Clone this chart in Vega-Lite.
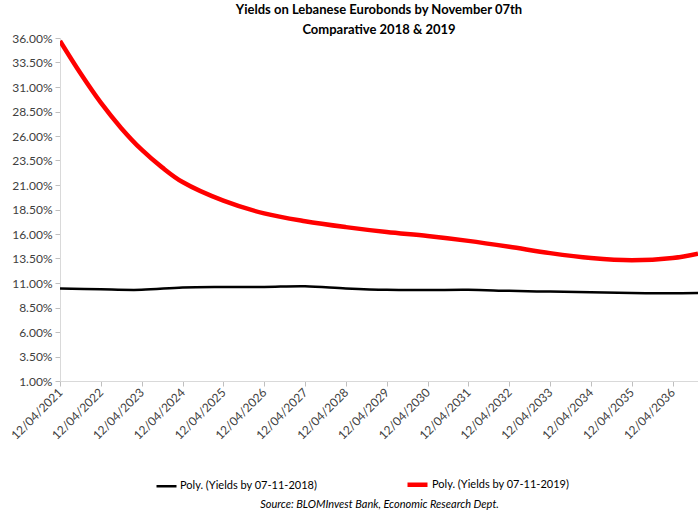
{
  "$schema": "https://vega.github.io/schema/vega-lite/v6.json",
  "autosize": "none",
  "padding": {"left": 60, "top": 38, "right": 0, "bottom": 136},
  "width": 638,
  "height": 343,
  "background": "white",
  "title": {
    "text": ["Yields on Lebanese Eurobonds by  November 07th", "Comparative 2018 & 2019"],
    "anchor": "middle",
    "font": "Lato",
    "fontSize": 13,
    "fontWeight": "bold",
    "color": "#000000",
    "lineHeight": 20,
    "offset": -5
  },
  "data": {
    "values": [
      {"date": "2021-04-12", "series": "Poly. (Yields by 07-11-2018)", "yield": 10.45},
      {"date": "2022-04-12", "series": "Poly. (Yields by 07-11-2018)", "yield": 10.35},
      {"date": "2023-04-12", "series": "Poly. (Yields by 07-11-2018)", "yield": 10.3},
      {"date": "2024-04-12", "series": "Poly. (Yields by 07-11-2018)", "yield": 10.55},
      {"date": "2025-04-12", "series": "Poly. (Yields by 07-11-2018)", "yield": 10.6},
      {"date": "2026-04-12", "series": "Poly. (Yields by 07-11-2018)", "yield": 10.6},
      {"date": "2027-04-12", "series": "Poly. (Yields by 07-11-2018)", "yield": 10.67},
      {"date": "2028-04-12", "series": "Poly. (Yields by 07-11-2018)", "yield": 10.45},
      {"date": "2029-04-12", "series": "Poly. (Yields by 07-11-2018)", "yield": 10.3},
      {"date": "2030-04-12", "series": "Poly. (Yields by 07-11-2018)", "yield": 10.28},
      {"date": "2031-04-12", "series": "Poly. (Yields by 07-11-2018)", "yield": 10.3},
      {"date": "2032-04-12", "series": "Poly. (Yields by 07-11-2018)", "yield": 10.2},
      {"date": "2033-04-12", "series": "Poly. (Yields by 07-11-2018)", "yield": 10.12},
      {"date": "2034-04-12", "series": "Poly. (Yields by 07-11-2018)", "yield": 10.05},
      {"date": "2035-04-12", "series": "Poly. (Yields by 07-11-2018)", "yield": 9.97},
      {"date": "2036-04-12", "series": "Poly. (Yields by 07-11-2018)", "yield": 9.95},
      {"date": "2036-11-25", "series": "Poly. (Yields by 07-11-2018)", "yield": 9.98},
      {"date": "2021-04-12", "series": "Poly. (Yields by 07-11-2019)", "yield": 35.7},
      {"date": "2021-10-12", "series": "Poly. (Yields by 07-11-2019)", "yield": 32.4},
      {"date": "2022-04-12", "series": "Poly. (Yields by 07-11-2019)", "yield": 29.4},
      {"date": "2022-10-12", "series": "Poly. (Yields by 07-11-2019)", "yield": 26.8},
      {"date": "2023-04-12", "series": "Poly. (Yields by 07-11-2019)", "yield": 24.6},
      {"date": "2023-10-12", "series": "Poly. (Yields by 07-11-2019)", "yield": 22.8},
      {"date": "2024-04-12", "series": "Poly. (Yields by 07-11-2019)", "yield": 21.3},
      {"date": "2025-04-12", "series": "Poly. (Yields by 07-11-2019)", "yield": 19.4},
      {"date": "2026-04-12", "series": "Poly. (Yields by 07-11-2019)", "yield": 18.1},
      {"date": "2027-04-12", "series": "Poly. (Yields by 07-11-2019)", "yield": 17.3},
      {"date": "2028-04-12", "series": "Poly. (Yields by 07-11-2019)", "yield": 16.7},
      {"date": "2029-04-12", "series": "Poly. (Yields by 07-11-2019)", "yield": 16.2},
      {"date": "2030-04-12", "series": "Poly. (Yields by 07-11-2019)", "yield": 15.8},
      {"date": "2031-04-12", "series": "Poly. (Yields by 07-11-2019)", "yield": 15.3},
      {"date": "2032-04-12", "series": "Poly. (Yields by 07-11-2019)", "yield": 14.7},
      {"date": "2033-04-12", "series": "Poly. (Yields by 07-11-2019)", "yield": 14.05},
      {"date": "2034-04-12", "series": "Poly. (Yields by 07-11-2019)", "yield": 13.55},
      {"date": "2035-04-12", "series": "Poly. (Yields by 07-11-2019)", "yield": 13.32},
      {"date": "2036-04-12", "series": "Poly. (Yields by 07-11-2019)", "yield": 13.55},
      {"date": "2036-11-25", "series": "Poly. (Yields by 07-11-2019)", "yield": 14.0}
    ]
  },
  "mark": {"type": "line", "interpolate": "catmull-rom", "clip": true},
  "encoding": {
    "x": {
      "field": "date",
      "type": "temporal",
      "scale": {
        "type": "utc",
        "domain": [
          {"year": 2021, "month": 4, "date": 12, "utc": true},
          {"year": 2036, "month": 11, "date": 25, "utc": true}
        ]
      },
      "axis": {
        "title": "Source: BLOMInvest Bank, Economic Research Dept.",
        "titleFont": "Lato",
        "titleFontStyle": "italic",
        "titleFontWeight": "normal",
        "titleFontSize": 11,
        "titleColor": "#000000",
        "titlePadding": 57,
        "values": [
          {"year": 2021, "month": 4, "date": 12, "utc": true},
          {"year": 2022, "month": 4, "date": 12, "utc": true},
          {"year": 2023, "month": 4, "date": 12, "utc": true},
          {"year": 2024, "month": 4, "date": 12, "utc": true},
          {"year": 2025, "month": 4, "date": 12, "utc": true},
          {"year": 2026, "month": 4, "date": 12, "utc": true},
          {"year": 2027, "month": 4, "date": 12, "utc": true},
          {"year": 2028, "month": 4, "date": 12, "utc": true},
          {"year": 2029, "month": 4, "date": 12, "utc": true},
          {"year": 2030, "month": 4, "date": 12, "utc": true},
          {"year": 2031, "month": 4, "date": 12, "utc": true},
          {"year": 2032, "month": 4, "date": 12, "utc": true},
          {"year": 2033, "month": 4, "date": 12, "utc": true},
          {"year": 2034, "month": 4, "date": 12, "utc": true},
          {"year": 2035, "month": 4, "date": 12, "utc": true},
          {"year": 2036, "month": 4, "date": 12, "utc": true}
        ],
        "format": "%d/%m/%Y",
        "labelAngle": -45,
        "labelAlign": "right",
        "labelBaseline": "middle",
        "labelFont": "Lato",
        "labelFontSize": 12,
        "labelColor": "#404040",
        "labelPadding": 4,
        "labelOverlap": false,
        "labelFlush": false,
        "tickColor": "#BFBFBF",
        "domainColor": "#D9D9D9",
        "tickSize": 5,
        "grid": false
      }
    },
    "y": {
      "field": "yield",
      "type": "quantitative",
      "scale": {"domain": [1, 36], "nice": false, "zero": false},
      "axis": {
        "title": null,
        "values": [1, 3.5, 6, 8.5, 11, 13.5, 16, 18.5, 21, 23.5, 26, 28.5, 31, 33.5, 36],
        "labelExpr": "format(datum.value, '.2f') + '%'",
        "labelFont": "Lato",
        "labelFontSize": 12,
        "labelColor": "#404040",
        "labelPadding": 3,
        "tickColor": "#BFBFBF",
        "domainColor": "#D9D9D9",
        "tickSize": 5,
        "grid": false
      }
    },
    "color": {
      "field": "series",
      "type": "nominal",
      "scale": {
        "domain": ["Poly. (Yields by 07-11-2018)", "Poly. (Yields by 07-11-2019)"],
        "range": ["#000000", "#FF0000"]
      },
      "legend": {
        "title": null,
        "orient": "none",
        "legendX": 95,
        "legendY": 434,
        "direction": "horizontal",
        "symbolType": "stroke",
        "symbolSize": 400,
        "columnPadding": 80,
        "labelFont": "Lato",
        "labelFontSize": 11,
        "labelColor": "#000000",
        "labelLimit": 300,
        "labelOffset": 2
      }
    },
    "strokeWidth": {
      "field": "series",
      "type": "nominal",
      "scale": {
        "domain": ["Poly. (Yields by 07-11-2018)", "Poly. (Yields by 07-11-2019)"],
        "range": [2.5, 4.5]
      },
      "legend": null
    }
  },
  "config": {
    "view": {"stroke": null},
    "legend": {"symbolStrokeWidth": 3}
  }
}
